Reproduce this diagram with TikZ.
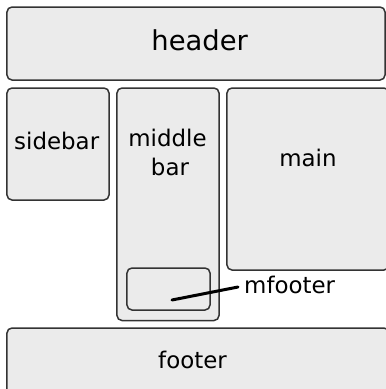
\documentclass[tikz,border=0pt]{standalone}
\usepackage{fontspec}
\setmainfont{DejaVu Sans}
\definecolor{boxfill}{HTML}{EBEBEB}
\definecolor{boxline}{HTML}{333333}
\begin{document}
\begin{tikzpicture}[x=1bp,y=-1bp,
  panel/.style={draw=boxline,fill=boxfill,line width=1.5bp,rounded corners=5bp,inner sep=0pt,outer sep=0pt},
  lbl/.style={inner sep=0pt,anchor=base,font=\fontsize{23}{27}\selectfont,text=black},
  biglbl/.style={lbl,font=\fontsize{27.5}{32}\selectfont}]
\useasboundingbox (0,0) rectangle (386,389);
\begin{scope}
\clip (0,0) rectangle (386,389);
\node[panel,minimum width=378bp,minimum height=73bp] (header) at (196,43.5) {};
\node[panel,minimum width=102bp,minimum height=112bp] (sidebar) at (58,144) {};
\node[panel,minimum width=102bp,minimum height=232.5bp] (middle) at (168,204.25) {};
\node[panel,minimum width=162bp,minimum height=182bp] (main) at (308,179) {};
\node[panel,minimum width=83bp,minimum height=42bp] (mfooter) at (168.5,289) {};
\node[panel,minimum width=382bp,minimum height=67bp] (footer) at (198,361.5) {};
\end{scope}
\node[biglbl] (headert) at (199.7,50.7) {header};
\node[lbl] (sidebart) at (56.7,149) {sidebar};
\node[lbl] (middlet) at (167.5,146.7) {middle};
\node[lbl] (bart) at (170,175) {bar};
\node[lbl] (maint) at (308,166.7) {main};
\node[lbl] (footert) at (192.5,368) {footer};
\node[lbl,anchor=base west] (mfootert) at (244,293.3) {mfooter};
\coordinate (mfpt) at (172,300);
\coordinate (mfend) at (238,287);
\draw[line width=3bp,line cap=round] (mfpt) -- (mfend);
\end{tikzpicture}
\end{document}
